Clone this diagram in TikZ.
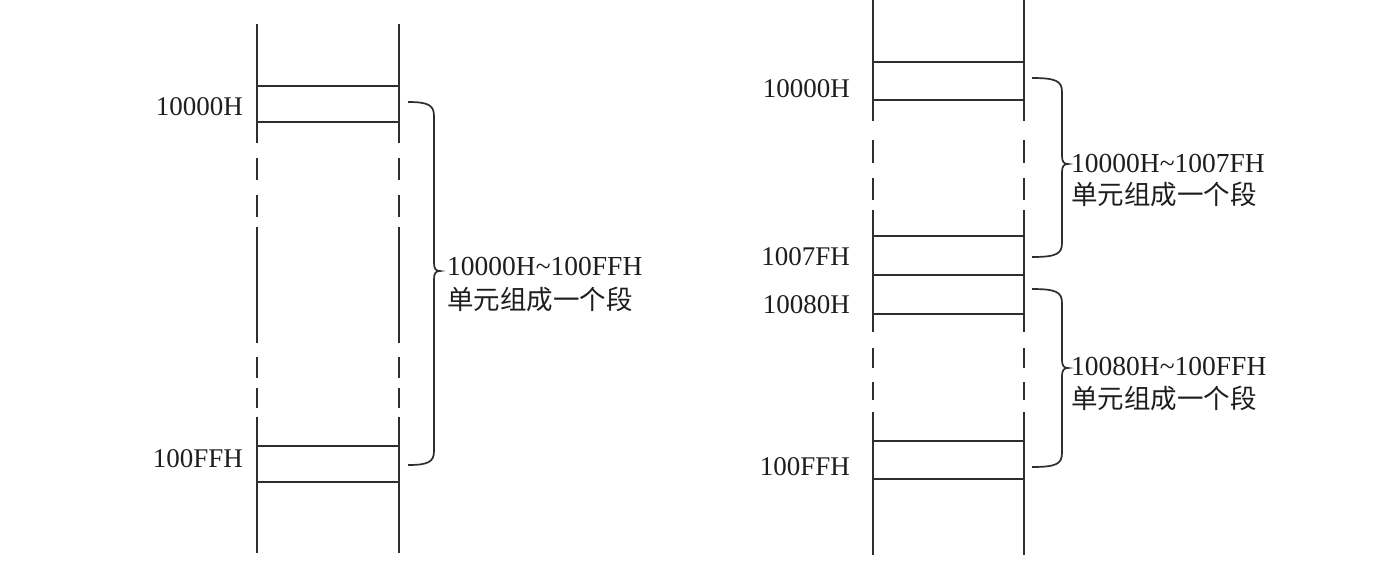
\documentclass[tikz,border=0pt]{standalone}
\usepackage{fontspec}
\setmainfont{Liberation Serif}
\newfontfamily\cjk{Noto Sans CJK SC}
\definecolor{linegray}{HTML}{2e2e2e}
\definecolor{txtgray}{HTML}{1e1e1e}
\newcommand\tld{\char"007E\relax}
\newcommand\segbrace[5]{%
  \draw[br] (#1,#3) .. controls ({#2-6},{#3}) and (#2,{#3+3}) .. (#2,{#3+14})
    -- (#2,{#4-8}) .. controls (#2,{#4-2}) and ({#2+2},#4) .. ({#2+6},#4)
    .. controls ({#2+2},#4) and (#2,{#4+2}) .. (#2,{#4+8})
    -- (#2,{#5-14}) .. controls (#2,{#5-3}) and ({#2-6},{#5}) .. (#1,#5);}
\begin{document}
\begin{tikzpicture}[x=1pt,y=-1pt,
  ln/.style={line width=2.2pt, draw=linegray},
  br/.style={line width=1.7pt, draw=linegray},
  lbl/.style={anchor=base east, inner sep=0pt, text=txtgray, font=\fontsize{27}{32}\selectfont},
  note/.style={anchor=base west, inner sep=0pt, text=txtgray, font=\fontsize{27.5}{32}\selectfont},
  cnote/.style={anchor=base west, inner sep=0pt, text=txtgray, font=\cjk\fontsize{26.5}{32}\selectfont}]
\useasboundingbox[fill=white] (0,0) rectangle (1384,566);
% ---------- left diagram ----------
\foreach \x in {257,399}{
  \foreach \a/\b in {24/143,158/180,195/217,227/343,357/378,388/408,417/553}
    \draw[ln] (\x,\a) -- (\x,\b);
}
\foreach \y in {86,122,446,482}
  \draw[ln] (257,\y) -- (399,\y);
\node[lbl] (l1) at (243,115) {10000H};
\node[lbl] (l2) at (243,467) {100FFH};
\segbrace{408}{434}{102}{271}{465}
\node[note] (l3) at (447,275) {10000H\tld 100FFH};
\node[cnote] (l4) at (447,309) {单元组成一个段};
% ---------- right diagram ----------
\foreach \x in {873,1024}{
  \foreach \a/\b in {0/121,140/163,178/200,210/332,348/368,382/400,412/555}
    \draw[ln] (\x,\a) -- (\x,\b);
}
\foreach \y in {62,100,236,275,314,441,479}
  \draw[ln] (873,\y) -- (1024,\y);
\node[lbl] (r1) at (850,97) {10000H};
\node[lbl] (r2) at (850,265) {1007FH};
\node[lbl] (r3) at (850,313) {10080H};
\node[lbl] (r4) at (850,475) {100FFH};
\segbrace{1032}{1062}{78}{164}{257}
\segbrace{1032}{1062}{289}{368}{467}
\node[note] (r5) at (1071,172) {10000H\tld 1007FH};
\node[cnote] (r6) at (1071,204) {单元组成一个段};
\node[note] (r7) at (1071,375) {10080H\tld 100FFH};
\node[cnote] (r8) at (1071,408) {单元组成一个段};
\end{tikzpicture}
\end{document}
